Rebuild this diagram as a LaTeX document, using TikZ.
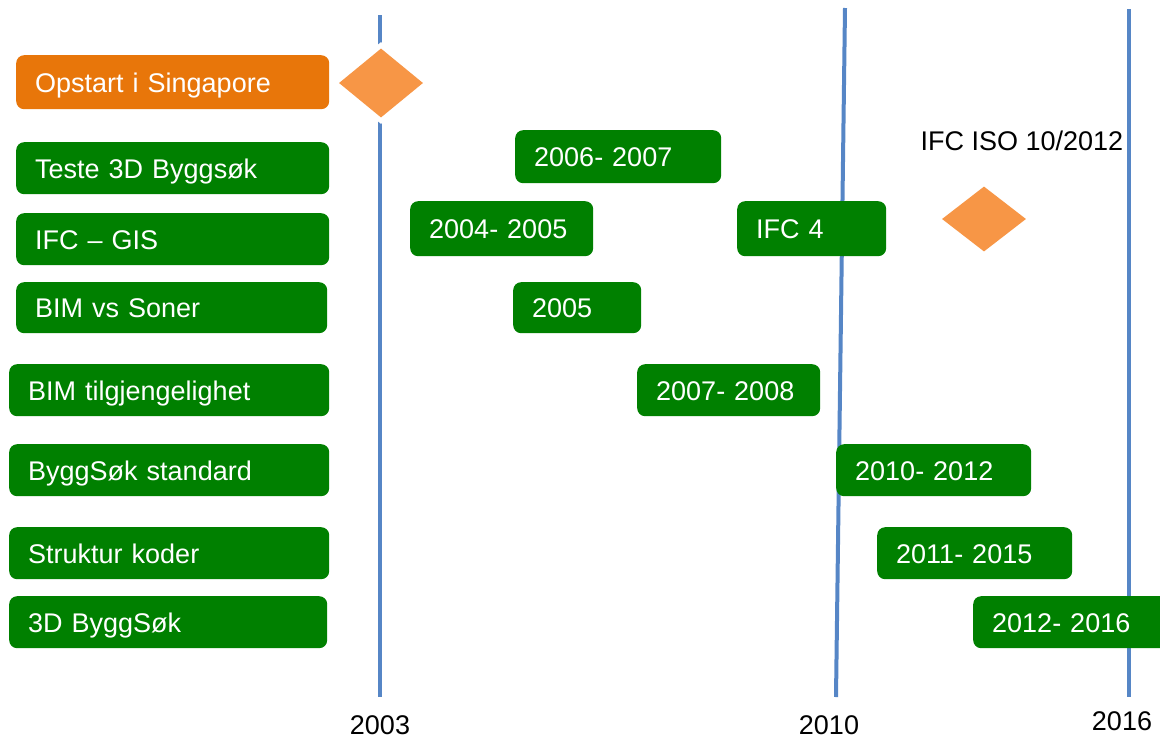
\documentclass[tikz,border=0pt]{standalone}
\usepackage{fontspec}
\setmainfont{Liberation Sans}
\usepackage{tikz}
\usetikzlibrary{shapes.geometric}

\definecolor{taskgreen}{RGB}{0,128,0}
\definecolor{startorange}{RGB}{232,118,10}
\definecolor{markorange}{RGB}{247,150,70}
\definecolor{yearblue}{RGB}{86,134,198}

\tikzset{
    task/.style={rounded corners=8pt, fill=taskgreen, text=white, anchor=north west,
        inner xsep=19pt, inner ysep=0pt, align=left, text height=20pt, text depth=0pt,
        font=\fontsize{27}{32}\selectfont},
    yearline/.style={draw=yearblue, line width=4pt},
    yearlabel/.style={anchor=base, font=\fontsize{27}{32}\selectfont},
    milestone/.style={diamond, fill=markorange, inner sep=0pt,
        preaction={draw=white, line width=10pt}},
}

\begin{document}
\begin{tikzpicture}[x=1pt, y=1pt]
    \useasboundingbox (0,0) rectangle (1160,-739);

    % year lines
    \coordinate (a2003) at (380,-15);
    \coordinate (b2003) at (380,-697);
    \coordinate (a2010) at (845,-8);
    \coordinate (b2010) at (836,-697);
    \coordinate (a2016) at (1129,-9);
    \coordinate (b2016) at (1129,-697);
    \draw[yearline] (a2003) -- (b2003);
    \draw[yearline] (a2010) -- (b2010);
    \draw[yearline] (a2016) -- (b2016);
    \node[yearlabel] (l2003) at (380,-734) {2003};
    \node[yearlabel] (l2010) at (829,-734) {2010};
    \node[yearlabel] (l2016) at (1122,-730) {2016};

    % milestones
    \node[milestone, minimum width=84pt, minimum height=69pt] (m1) at (381,-83) {};
    \node[milestone, minimum width=84pt, minimum height=65pt] (m2) at (984,-219) {};
    \node[yearlabel, anchor=base west] (iso) at (917,-150) {IFC ISO 10/2012};

    % activities
    \node[task, fill=startorange, text width=275pt, minimum height=54pt] (ops) at (16,-55) {Opstart i Singapore};
    \node[task, text width=275pt, minimum height=52pt] (t3d) at (16,-142) {Teste 3D Byggsøk};
    \node[task, text width=275pt, minimum height=52pt] (gis) at (16,-213) {IFC – GIS};
    \node[task, text width=273pt, minimum height=51pt] (son) at (16,-282) {BIM vs Soner};
    \node[task, text width=282pt, minimum height=52pt] (tilg) at (9,-364) {BIM tilgjengelighet};
    \node[task, text width=282pt, minimum height=52pt] (std) at (9,-444) {ByggSøk standard};
    \node[task, text width=282pt, minimum height=52pt] (kod) at (9,-527) {Struktur koder};
    \node[task, text width=280pt, minimum height=52pt] (b3d) at (9,-596) {3D ByggSøk};

    % periods
    \node[task, text width=168pt, minimum height=53pt] (p1) at (515,-130) {2006- 2007};
    \node[task, text width=145pt, minimum height=55pt] (p2) at (410,-201) {2004- 2005};
    \node[task, text width=111pt, minimum height=55pt] (p3) at (737,-201) {IFC 4};
    \node[task, text width=90pt, minimum height=51pt] (p4) at (513,-282) {2005};
    \node[task, text width=145pt, minimum height=52pt] (p5) at (637,-364) {2007- 2008};
    \node[task, text width=157pt, minimum height=52pt] (p6) at (836,-444) {2010- 2012};
    \node[task, text width=157pt, minimum height=52pt] (p7) at (877,-527) {2011- 2015};
    \node[task, text width=162pt, minimum height=52pt] (p8) at (973,-596) {2012- 2016};
\end{tikzpicture}
\end{document}
